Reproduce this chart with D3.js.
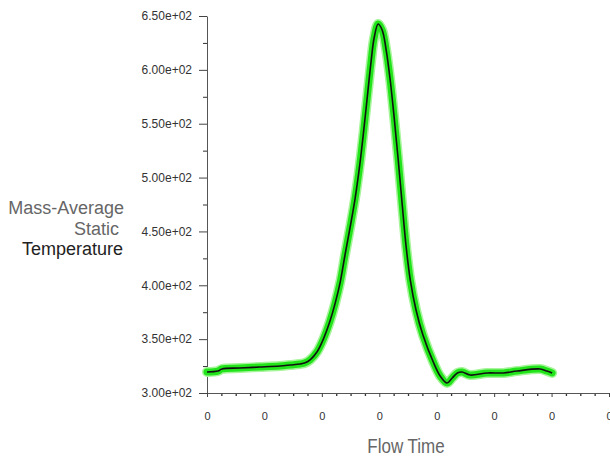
<!DOCTYPE html>
<html>
<head>
  <title>Mass-Average Static Temperature</title>
  <script src="https://d3js.org/d3.v7.min.js"></script>
  <style>
    body { margin: 0; background: #fff; }
    text { font-family: "Liberation Sans", Arial, sans-serif; }
  </style>
</head>
<body>
  <div id="chart"></div>
  <script>
  // flow time (s) and temperature (K)
  const flowTime = [0, 0.019, 0.026, 0.057, 0.092, 0.127, 0.145, 0.162, 0.171, 0.180,
    0.192, 0.203, 0.214, 0.223, 0.232, 0.240, 0.249, 0.258, 0.266, 0.273,
    0.280, 0.286, 0.291, 0.298, 0.305, 0.312, 0.319, 0.326, 0.333, 0.340,
    0.347, 0.354, 0.364, 0.376, 0.394, 0.406, 0.418, 0.427, 0.436, 0.444,
    0.458, 0.488, 0.516, 0.540, 0.580, 0.592, 0.601];
  const temperature = [319.5, 320.4, 322.3, 323.2, 324.1, 325.1, 326.0, 326.9, 328.0, 331.0,
    338.5, 350.5, 366.5, 383.0, 403.0, 427.2, 453.2, 481.0, 511.7, 544.2,
    579.4, 609.1, 629.6, 642.6, 637.0, 618.4, 590.6, 555.3, 516.3, 474.5,
    434.6, 404.9, 377.1, 353.8, 328.8, 315.8, 309.3, 313.9, 318.6, 319.5,
    316.7, 318.6, 318.6, 320.4, 322.3, 320.4, 318.6];

  const xTicks = [0, 0.1, 0.2, 0.3, 0.4, 0.5, 0.6, 0.7];
  const xTickLabels = ["0", "0", "0", "0", "0", "0", "0", "0"];
  const yTicks = [300, 350, 400, 450, 500, 550, 600, 650];
  const yTickLabels = ["3.00e+02", "3.50e+02", "4.00e+02", "4.50e+02",
    "5.00e+02", "5.50e+02", "6.00e+02", "6.50e+02"];

  const data = flowTime.map((t, i) => ({ t: t, v: temperature[i] }));

  const svg = d3.select("#chart").append("svg")
    .attr("width", 610)
    .attr("height", 459);

  const x = d3.scaleLinear().domain([0, 0.7]).range([207, 609]);
  const y = d3.scaleLinear().domain([300, 650]).range([393, 16]);

  // minor ticks
  const yMinor = d3.range(325, 650, 50);
  svg.append("g")
    .attr("transform", "translate(207,0)")
    .call(d3.axisLeft(y).tickValues(yMinor).tickSize(4).tickFormat(""))
    .call(g => g.select(".domain").remove())
    .selectAll("line").attr("stroke", "#333");

  const xMinor = d3.range(0.025, 0.7, 0.025).filter(v => Math.abs(v * 10 - Math.round(v * 10)) > 0.01);
  svg.append("g")
    .attr("transform", "translate(0,393)")
    .call(d3.axisBottom(x).tickValues(xMinor).tickSize(3).tickFormat(""))
    .call(g => g.select(".domain").remove())
    .selectAll("line").attr("stroke", "#333").attr("stroke-width", 1.3);

  // y axis
  const yAxis = svg.append("g")
    .attr("transform", "translate(207,0)")
    .call(d3.axisLeft(y).tickValues(yTicks).tickSize(8).tickSizeOuter(0).tickPadding(7)
      .tickFormat((d, i) => yTickLabels[i]));
  yAxis.select(".domain").attr("stroke", "#555");
  yAxis.selectAll("line").attr("stroke", "#444");
  yAxis.selectAll("text").attr("font-size", 12).attr("fill", "#333")
    .attr("font-family", "Liberation Sans, Arial, sans-serif");

  // x axis
  const xAxis = svg.append("g")
    .attr("transform", "translate(0,393)")
    .call(d3.axisBottom(x).tickValues(xTicks).tickSize(4).tickSizeOuter(0).tickPadding(15)
      .tickFormat((d, i) => xTickLabels[i]));
  xAxis.select(".domain").attr("stroke", "#555");
  xAxis.selectAll("line").attr("stroke", "#444");
  xAxis.selectAll("text").attr("font-size", 11).attr("fill", "#333")
    .attr("font-family", "Liberation Sans, Arial, sans-serif");

  // curve
  const line = d3.line()
    .x(d => x(d.t))
    .y(d => y(d.v))
    .curve(d3.curveCatmullRom.alpha(0.5));

  svg.append("path").datum(data)
    .attr("d", line)
    .attr("fill", "none")
    .attr("stroke", "#a6f59a")
    .attr("stroke-width", 10)
    .attr("stroke-linejoin", "round")
    .attr("stroke-linecap", "round");
  svg.append("path").datum(data)
    .attr("d", line)
    .attr("fill", "none")
    .attr("stroke", "#22e41a")
    .attr("stroke-width", 7)
    .attr("stroke-linejoin", "round")
    .attr("stroke-linecap", "round");
  svg.append("path").datum(data)
    .attr("d", line)
    .attr("fill", "none")
    .attr("stroke", "#111")
    .attr("stroke-width", 1.6)
    .attr("stroke-linejoin", "round");

  // axis titles
  const yTitle = [
    { text: "Mass-Average", x: 124, y: 214, fill: "#666" },
    { text: "Static", x: 119, y: 235, fill: "#666" },
    { text: "Temperature", x: 123, y: 255, fill: "#222" }
  ];
  svg.selectAll(".ytitle").data(yTitle).enter().append("text")
    .attr("class", "ytitle")
    .attr("x", d => d.x)
    .attr("y", d => d.y)
    .attr("text-anchor", "end")
    .attr("font-size", 18)
    .attr("fill", d => d.fill)
    .text(d => d.text);

  svg.append("text")
    .attr("transform", "translate(406,453) scale(0.85,1)")
    .attr("text-anchor", "middle")
    .attr("font-size", 20)
    .attr("fill", "#666")
    .text("Flow Time");
  </script>
</body>
</html>
